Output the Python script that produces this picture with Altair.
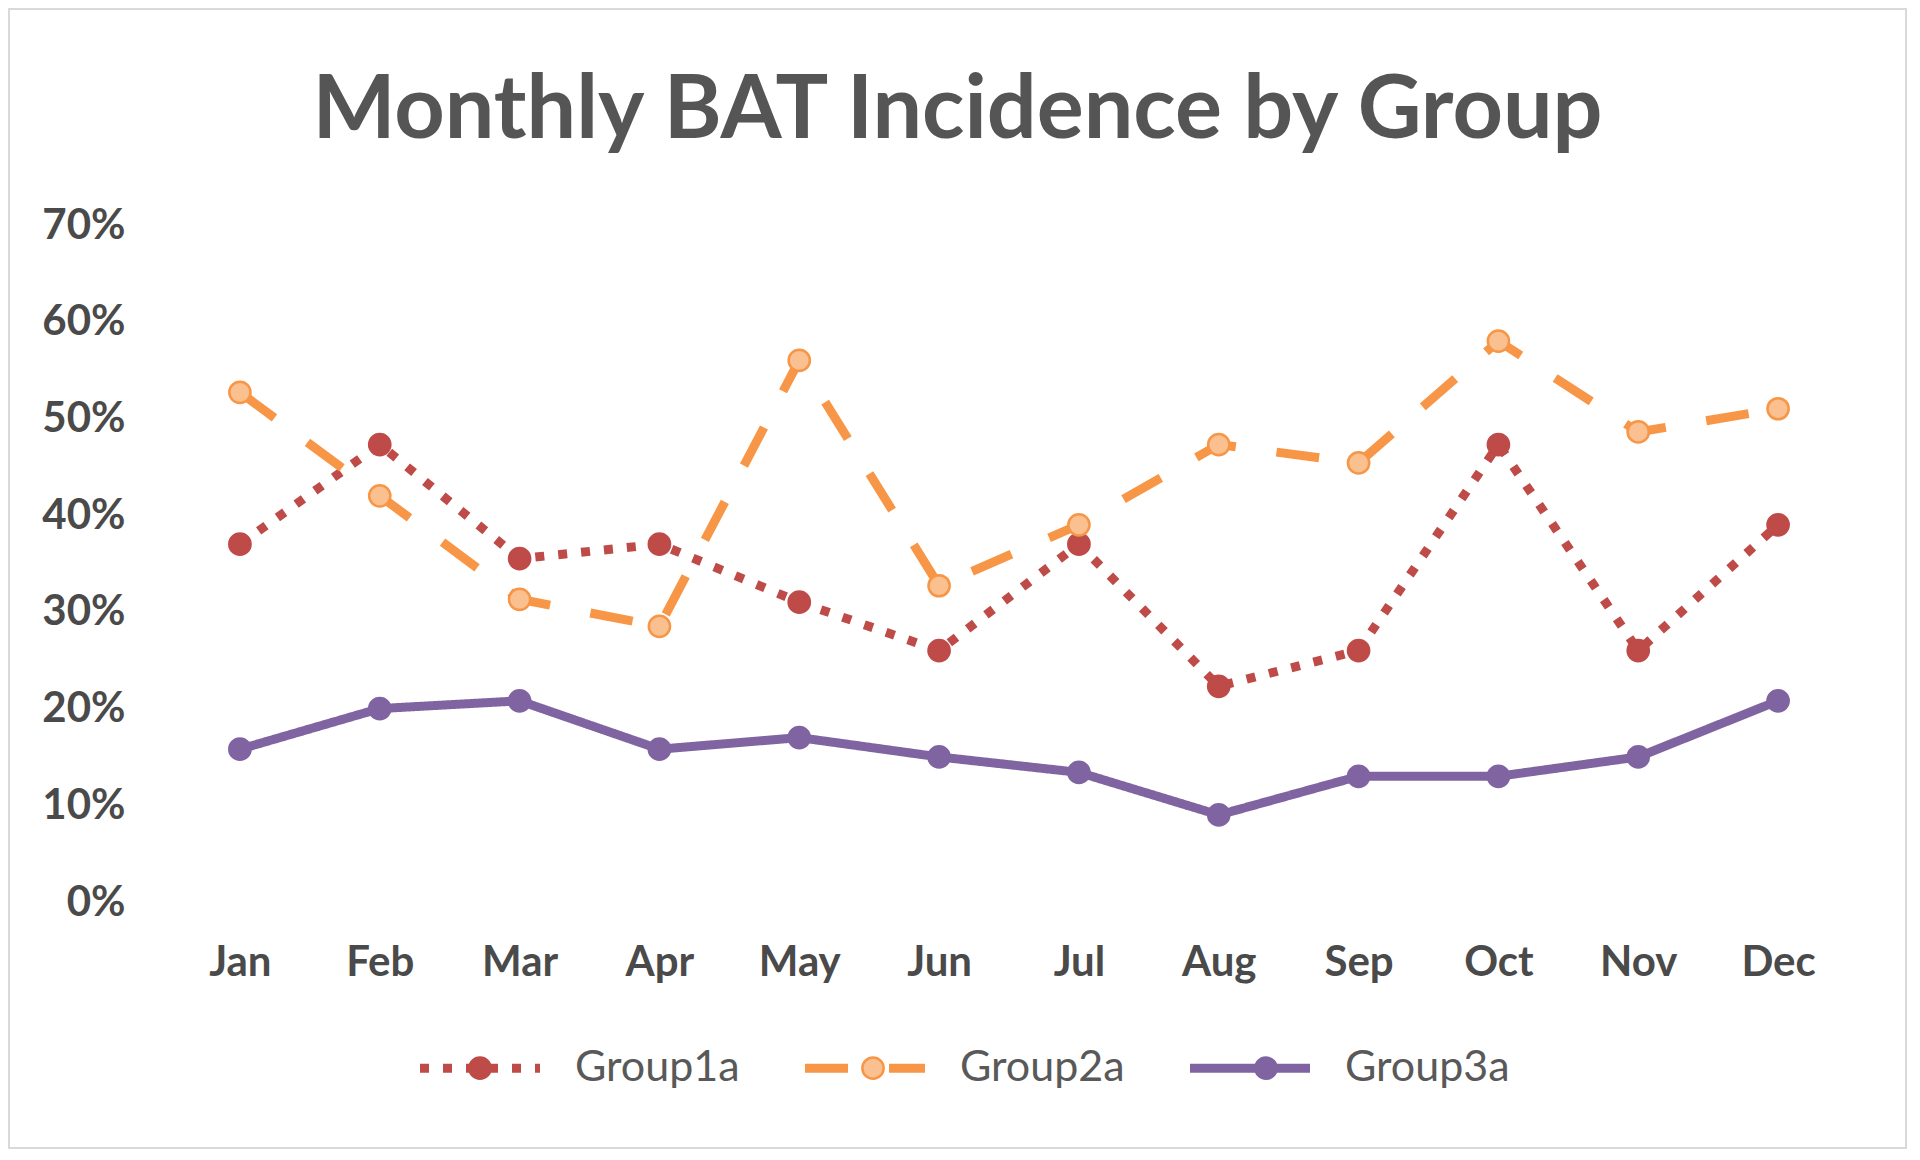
import altair as alt
import pandas as pd

months = ["Jan", "Feb", "Mar", "Apr", "May", "Jun", "Jul", "Aug", "Sep", "Oct", "Nov", "Dec"]
groups = ["Group1a", "Group2a", "Group3a"]
group1a = [0.370, 0.473, 0.355, 0.370, 0.310, 0.260, 0.370, 0.223, 0.260, 0.473, 0.260, 0.390]
group2a = [0.527, 0.420, 0.313, 0.285, 0.560, 0.327, 0.390, 0.473, 0.454, 0.580, 0.486, 0.510]
group3a = [0.158, 0.200, 0.208, 0.158, 0.170, 0.150, 0.134, 0.090, 0.130, 0.130, 0.150, 0.208]
y_ticks = [0, 0.1, 0.2, 0.3, 0.4, 0.5, 0.6, 0.7]

line_colors = ["#BE4B48", "#F79646", "#8064A2"]
marker_fills = ["#BE4B48", "#FAC090", "#8064A2"]
dashes = [[9, 14], [43, 41], [1, 0]]

rows = []
for g, vals in zip(groups, [group1a, group2a, group3a]):
    for m, v in zip(months, vals):
        rows.append({"month": m, "group": g, "value": v})
df = pd.DataFrame(rows)

FONT = "Lato"
W, H = 1678, 677

x_enc = alt.X("month:O", sort=months, scale=alt.Scale(type="point", padding=0.5),
              axis=alt.Axis(title=None, labelAngle=0, labelPadding=40))
y_enc = alt.Y("value:Q", scale=alt.Scale(domain=[0, 0.7], nice=False),
              axis=alt.Axis(title=None, values=y_ticks, format=".0%", labelPadding=45))


def line_legend():
    return alt.Legend(orient="none", legendX=245.5, legendY=778.5,
                      direction="horizontal", title=None,
                      symbolType="stroke", symbolSize=14400,
                      symbolStrokeWidth=9, labelOffset=30.5,
                      columnPadding=46, labelLimit=400, padding=0,
                      labelFont=FONT, labelFontSize=43,
                      labelColor="#595959")


def point_legend():
    return alt.Legend(orient="none", legendX=245.5, legendY=831,
                      direction="horizontal", title=None,
                      symbolType="circle", symbolSize=450, symbolStrokeWidth=2.5,
                      symbolOffset=52.5, labelOffset=270, labelExpr="''",
                      columnPadding=46, labelLimit=400, padding=0,
                      labelFont=FONT, labelFontSize=24)


lines = alt.Chart(df).mark_line(strokeWidth=9, strokeCap="butt").encode(
    x=x_enc,
    y=y_enc,
    color=alt.Color("group:N", scale=alt.Scale(domain=groups, range=line_colors),
                    legend=line_legend()),
    strokeDash=alt.StrokeDash("group:N", scale=alt.Scale(domain=groups, range=dashes),
                              legend=line_legend()),
)

points = alt.Chart(df).mark_point(filled=True, size=450, strokeWidth=2.5, opacity=1, shape="circle").encode(
    x=x_enc,
    y=y_enc,
    fill=alt.Fill("group:N", scale=alt.Scale(range=marker_fills), legend=point_legend()),
    stroke=alt.Stroke("group:N", scale=alt.Scale(range=line_colors), legend=point_legend()),
)

border = alt.Chart(alt.Data(values=[{"k": 1}])).mark_rect(
    fill=None, stroke="#D9D9D9", strokeWidth=2
).encode(
    x=alt.value(-161), x2=alt.value(1736), y=alt.value(-216), y2=alt.value(923)
)

chart = alt.layer(border, lines, points).properties(
    width=W, height=H,
    title=alt.TitleParams("Monthly BAT Incidence by Group", anchor="middle", orient="top",
                          frame="bounds",
                          font=FONT, fontSize=88, fontWeight="bold", color="#555555",
                          baseline="alphabetic", offset=-218),
    autosize=alt.AutoSizeParams(type="none"),
    padding={"left": 162, "top": 217, "right": 64, "bottom": 250},
).configure(background="white").configure_view(stroke=None).configure_axis(
    domain=False, ticks=False, tickSize=0, grid=False,
    labelFont=FONT, labelFontSize=42, labelFontWeight="bold", labelColor="#4a4a4a"
)

chart.save("out.html", embed_options={"renderer": "svg", "actions": False})
